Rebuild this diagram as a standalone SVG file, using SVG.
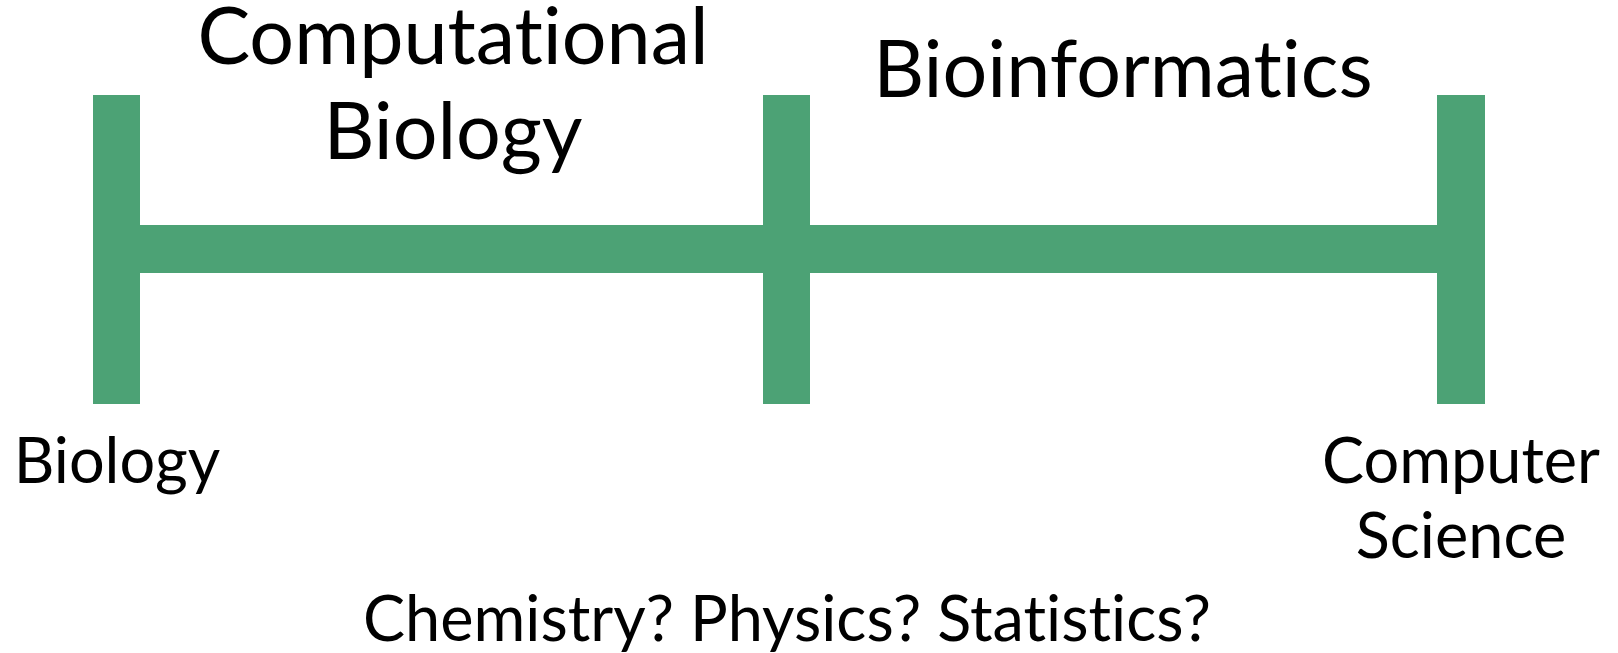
<svg xmlns="http://www.w3.org/2000/svg" width="1618" height="653" viewBox="0 0 1618 653">
<style>
.bar{fill:#4ca275}
.t{font-family:Lato,"Open Sans",sans-serif;fill:#000;text-anchor:middle;font-variant-ligatures:none;font-feature-settings:"liga" 0}
.big{font-size:79px}
.mid{font-size:63px}
</style>
<rect width="1618" height="653" fill="#fff"/>
<g id="connectors">
<rect class="bar" x="140" y="225" width="1297" height="48"/>
</g>
<g id="bar-biology"><rect class="bar" x="93" y="95" width="47" height="309"/></g>
<g id="bar-middle"><rect class="bar" x="763" y="95" width="47" height="309"/></g>
<g id="bar-cs"><rect class="bar" x="1437" y="95" width="48" height="309"/></g>
<g id="label-compbio"><text class="t big" x="453" y="64">Computational</text><text class="t big" x="453" y="159">Biology</text></g>
<g id="label-bioinf"><text class="t big" x="1123" y="97">Bioinformatics</text></g>
<g id="label-biology"><text class="t mid" x="117" y="483">Biology</text></g>
<g id="label-cs"><text class="t mid" x="1461" y="483">Computer</text><text class="t mid" x="1461" y="558">Science</text></g>
<g id="label-other"><text class="t mid" x="787" y="641">Chemistry? Physics? Statistics?</text></g>
</svg>
